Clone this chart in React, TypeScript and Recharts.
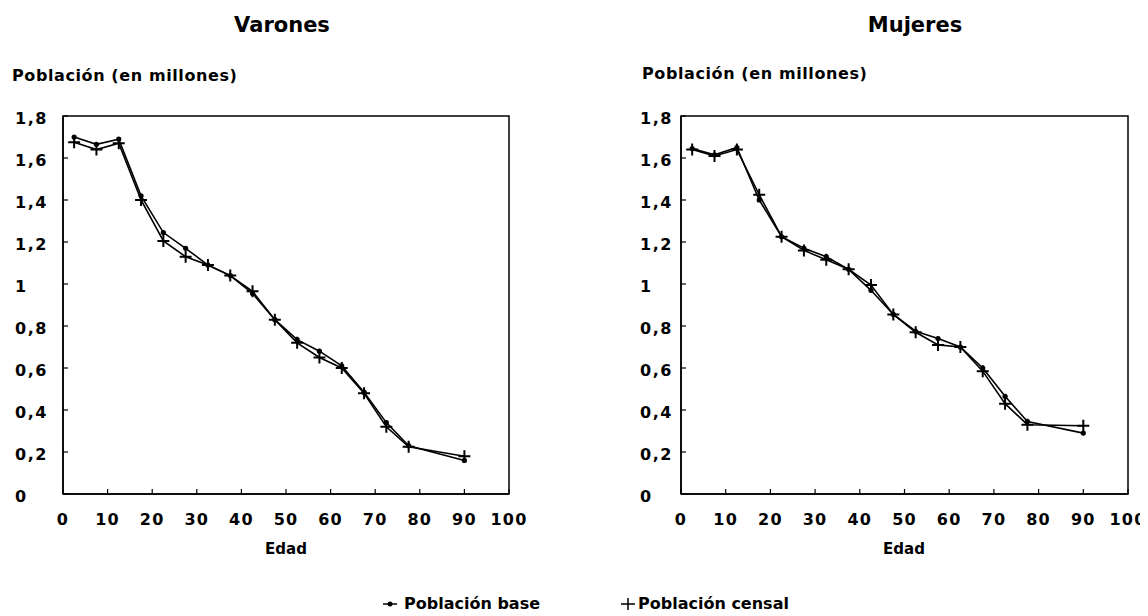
import React from "react";
import { LineChart, Line, XAxis, YAxis, ReferenceArea } from "recharts";

const AGES = [2.5, 7.5, 12.5, 17.5, 22.5, 27.5, 32.5, 37.5, 42.5, 47.5, 52.5, 57.5, 62.5, 67.5, 72.5, 77.5, 90];

const VARONES_BASE = [1.7, 1.665, 1.69, 1.42, 1.245, 1.17, 1.09, 1.04, 0.955, 0.83, 0.735, 0.68, 0.61, 0.485, 0.34, 0.23, 0.16];
const VARONES_CENSAL = [1.675, 1.64, 1.67, 1.4, 1.205, 1.13, 1.09, 1.04, 0.965, 0.83, 0.72, 0.65, 0.6, 0.48, 0.32, 0.225, 0.18];

const MUJERES_BASE = [1.645, 1.615, 1.65, 1.4, 1.225, 1.17, 1.13, 1.07, 0.97, 0.855, 0.775, 0.74, 0.7, 0.6, 0.465, 0.345, 0.29];
const MUJERES_CENSAL = [1.64, 1.61, 1.64, 1.425, 1.225, 1.16, 1.115, 1.07, 0.995, 0.855, 0.77, 0.71, 0.7, 0.585, 0.43, 0.33, 0.325];

const X_TICKS = [0, 10, 20, 30, 40, 50, 60, 70, 80, 90, 100];
const Y_TICKS = [0, 0.2, 0.4, 0.6, 0.8, 1, 1.2, 1.4, 1.6, 1.8];

const TITLES = ["Varones", "Mujeres"];
const Y_LABEL = "Población (en millones)";
const X_LABEL = "Edad";
const LEGEND = ["Población base", "Población censal"];

const FONT = '"DejaVu Sans", "Liberation Sans", Arial, sans-serif';

const fmt = (v: number) => String(Math.round(v * 10) / 10).replace(".", ",");

function buildData(base: number[], censal: number[]) {
  return AGES.map((a, i) => ({ edad: a, base: base[i], censal: censal[i] }));
}

const DotBase = (props: any) => {
  const { cx, cy, index } = props;
  if (cx == null || cy == null) return <g key={"b" + index} />;
  return <circle key={"b" + index} cx={cx} cy={cy} r={2.6} fill="#000" />;
};

const DotPlus = (props: any) => {
  const { cx, cy, index } = props;
  if (cx == null || cy == null) return <g key={"c" + index} />;
  return (
    <path
      key={"c" + index}
      d={`M${cx - 6},${cy}H${cx + 6}M${cx},${cy - 6}V${cy + 6}`}
      stroke="#000"
      strokeWidth={2}
      fill="none"
    />
  );
};

function makeYTick(labelOffset: number) {
  return (props: any) => {
    const { x, y, payload } = props;
    return (
      <g>
        <line x1={x} x2={x + 5} y1={y} y2={y} stroke="#000" strokeWidth={1.2} />
        <text
          x={x - labelOffset}
          y={y + 2}
          dy="0.36em"
          textAnchor="start"
          fontFamily={FONT}
          fontWeight="bold"
          fontSize={16}
          letterSpacing={1.5}
          fill="#000"
        >
          {fmt(payload.value)}
        </text>
      </g>
    );
  };
}

const XTick = (props: any) => {
  const { x, y, payload } = props;
  return (
    <g>
      <line x1={x} x2={x} y1={y} y2={y - 5} stroke="#000" strokeWidth={1.2} />
      <text
        x={x}
        y={y + 25}
        dy="0.36em"
        textAnchor="middle"
        fontFamily={FONT}
        fontWeight="bold"
        fontSize={16}
        letterSpacing={1.2}
        fill="#000"
      >
        {String(payload.value)}
      </text>
    </g>
  );
};

type ChartProps = {
  left: number;
  width: number;
  yAxisWidth: number;
  rightMargin: number;
  labelOffset: number;
  base: number[];
  censal: number[];
};

function PopChart({ left, width, yAxisWidth, rightMargin, labelOffset, base, censal }: ChartProps) {
  const data = buildData(base, censal);
  const YTick = makeYTick(labelOffset);
  return (
    <div style={{ position: "absolute", left, top: 0 }}>
      <LineChart
        width={width}
        height={560}
        data={data}
        margin={{ top: 108, right: rightMargin, bottom: 34, left: 0 }}
      >
        <XAxis
          dataKey="edad"
          type="number"
          domain={[0, 100]}
          ticks={X_TICKS}
          interval={0}
          height={40}
          tickSize={0}
          tickMargin={0}
          tickLine={false}
          axisLine={{ stroke: "#000", strokeWidth: 1.5 }}
          tick={XTick}
        />
        <YAxis
          type="number"
          domain={[0, 1.8]}
          ticks={Y_TICKS}
          interval={0}
          width={yAxisWidth}
          tickSize={0}
          tickMargin={0}
          tickLine={false}
          axisLine={{ stroke: "#000", strokeWidth: 1.5 }}
          tick={YTick}
        />
        <ReferenceArea
          x1={0}
          x2={100}
          y1={0}
          y2={1.8}
          fill="none"
          fillOpacity={0}
          stroke="#000"
          strokeWidth={1.5}
          ifOverflow="visible"
        />
        <Line
          type="linear"
          dataKey="base"
          stroke="#000"
          strokeWidth={1.6}
          dot={DotBase}
          activeDot={false}
          isAnimationActive={false}
        />
        <Line
          type="linear"
          dataKey="censal"
          stroke="#000"
          strokeWidth={1.6}
          dot={DotPlus}
          activeDot={false}
          isAnimationActive={false}
        />
      </LineChart>
    </div>
  );
}

function Txt({
  x,
  y,
  size,
  anchor = "start",
  bold = true,
  spacing = 0,
  children,
}: {
  x: number;
  y: number;
  size: number;
  anchor?: "start" | "middle";
  bold?: boolean;
  spacing?: number;
  children: React.ReactNode;
}) {
  return (
    <div
      style={{
        position: "absolute",
        left: x - 8,
        top: y - 8 - size / 2,
        lineHeight: `${size}px`,
        fontSize: size,
        fontFamily: FONT,
        fontWeight: bold ? "bold" : "normal",
        letterSpacing: spacing,
        whiteSpace: "nowrap",
        transform: anchor === "middle" ? "translateX(-50%)" : undefined,
        color: "#000",
      }}
    >
      {children}
    </div>
  );
}

export default function App() {
  return (
    <div style={{ position: "relative", width: 1140, height: 608, background: "#fff" }}>
      <PopChart
        left={0}
        width={540}
        yAxisWidth={55}
        rightMargin={39}
        labelOffset={48}
        base={VARONES_BASE}
        censal={VARONES_CENSAL}
      />
      <PopChart
        left={620}
        width={520}
        yAxisWidth={53}
        rightMargin={20}
        labelOffset={41}
        base={MUJERES_BASE}
        censal={MUJERES_CENSAL}
      />

      <Txt x={282} y={25} size={21} anchor="middle">{TITLES[0]}</Txt>
      <Txt x={915} y={25} size={21} anchor="middle">{TITLES[1]}</Txt>

      <Txt x={12} y={76} size={16} spacing={0.6}>{Y_LABEL}</Txt>
      <Txt x={642} y={74} size={16} spacing={0.6}>{Y_LABEL}</Txt>

      <Txt x={286} y={549} size={15} anchor="middle">{X_LABEL}</Txt>
      <Txt x={904} y={549} size={15} anchor="middle">{X_LABEL}</Txt>

      <div style={{ position: "absolute", left: 382 - 8, top: 604 - 8 - 10, height: 20, display: "flex", alignItems: "center" }}>
        <svg width={16} height={20} style={{ display: "block" }}>
          <line x1={1} x2={15} y1={10} y2={10} stroke="#000" strokeWidth={1.5} />
          <circle cx={8} cy={10} r={2.5} fill="#000" />
        </svg>
        <span style={{ fontFamily: FONT, fontWeight: "bold", fontSize: 16, lineHeight: "20px", marginLeft: 6, whiteSpace: "nowrap" }}>{LEGEND[0]}</span>
      </div>
      <div style={{ position: "absolute", left: 620 - 8, top: 604 - 8 - 10, height: 20, display: "flex", alignItems: "center" }}>
        <svg width={16} height={20} style={{ display: "block" }}>
          <line x1={1} x2={15} y1={10} y2={10} stroke="#000" strokeWidth={1.5} />
          <line x1={8} x2={8} y1={4} y2={16} stroke="#000" strokeWidth={1.5} />
        </svg>
        <span style={{ fontFamily: FONT, fontWeight: "bold", fontSize: 16, lineHeight: "20px", marginLeft: 2, whiteSpace: "nowrap" }}>{LEGEND[1]}</span>
      </div>
    </div>
  );
}
